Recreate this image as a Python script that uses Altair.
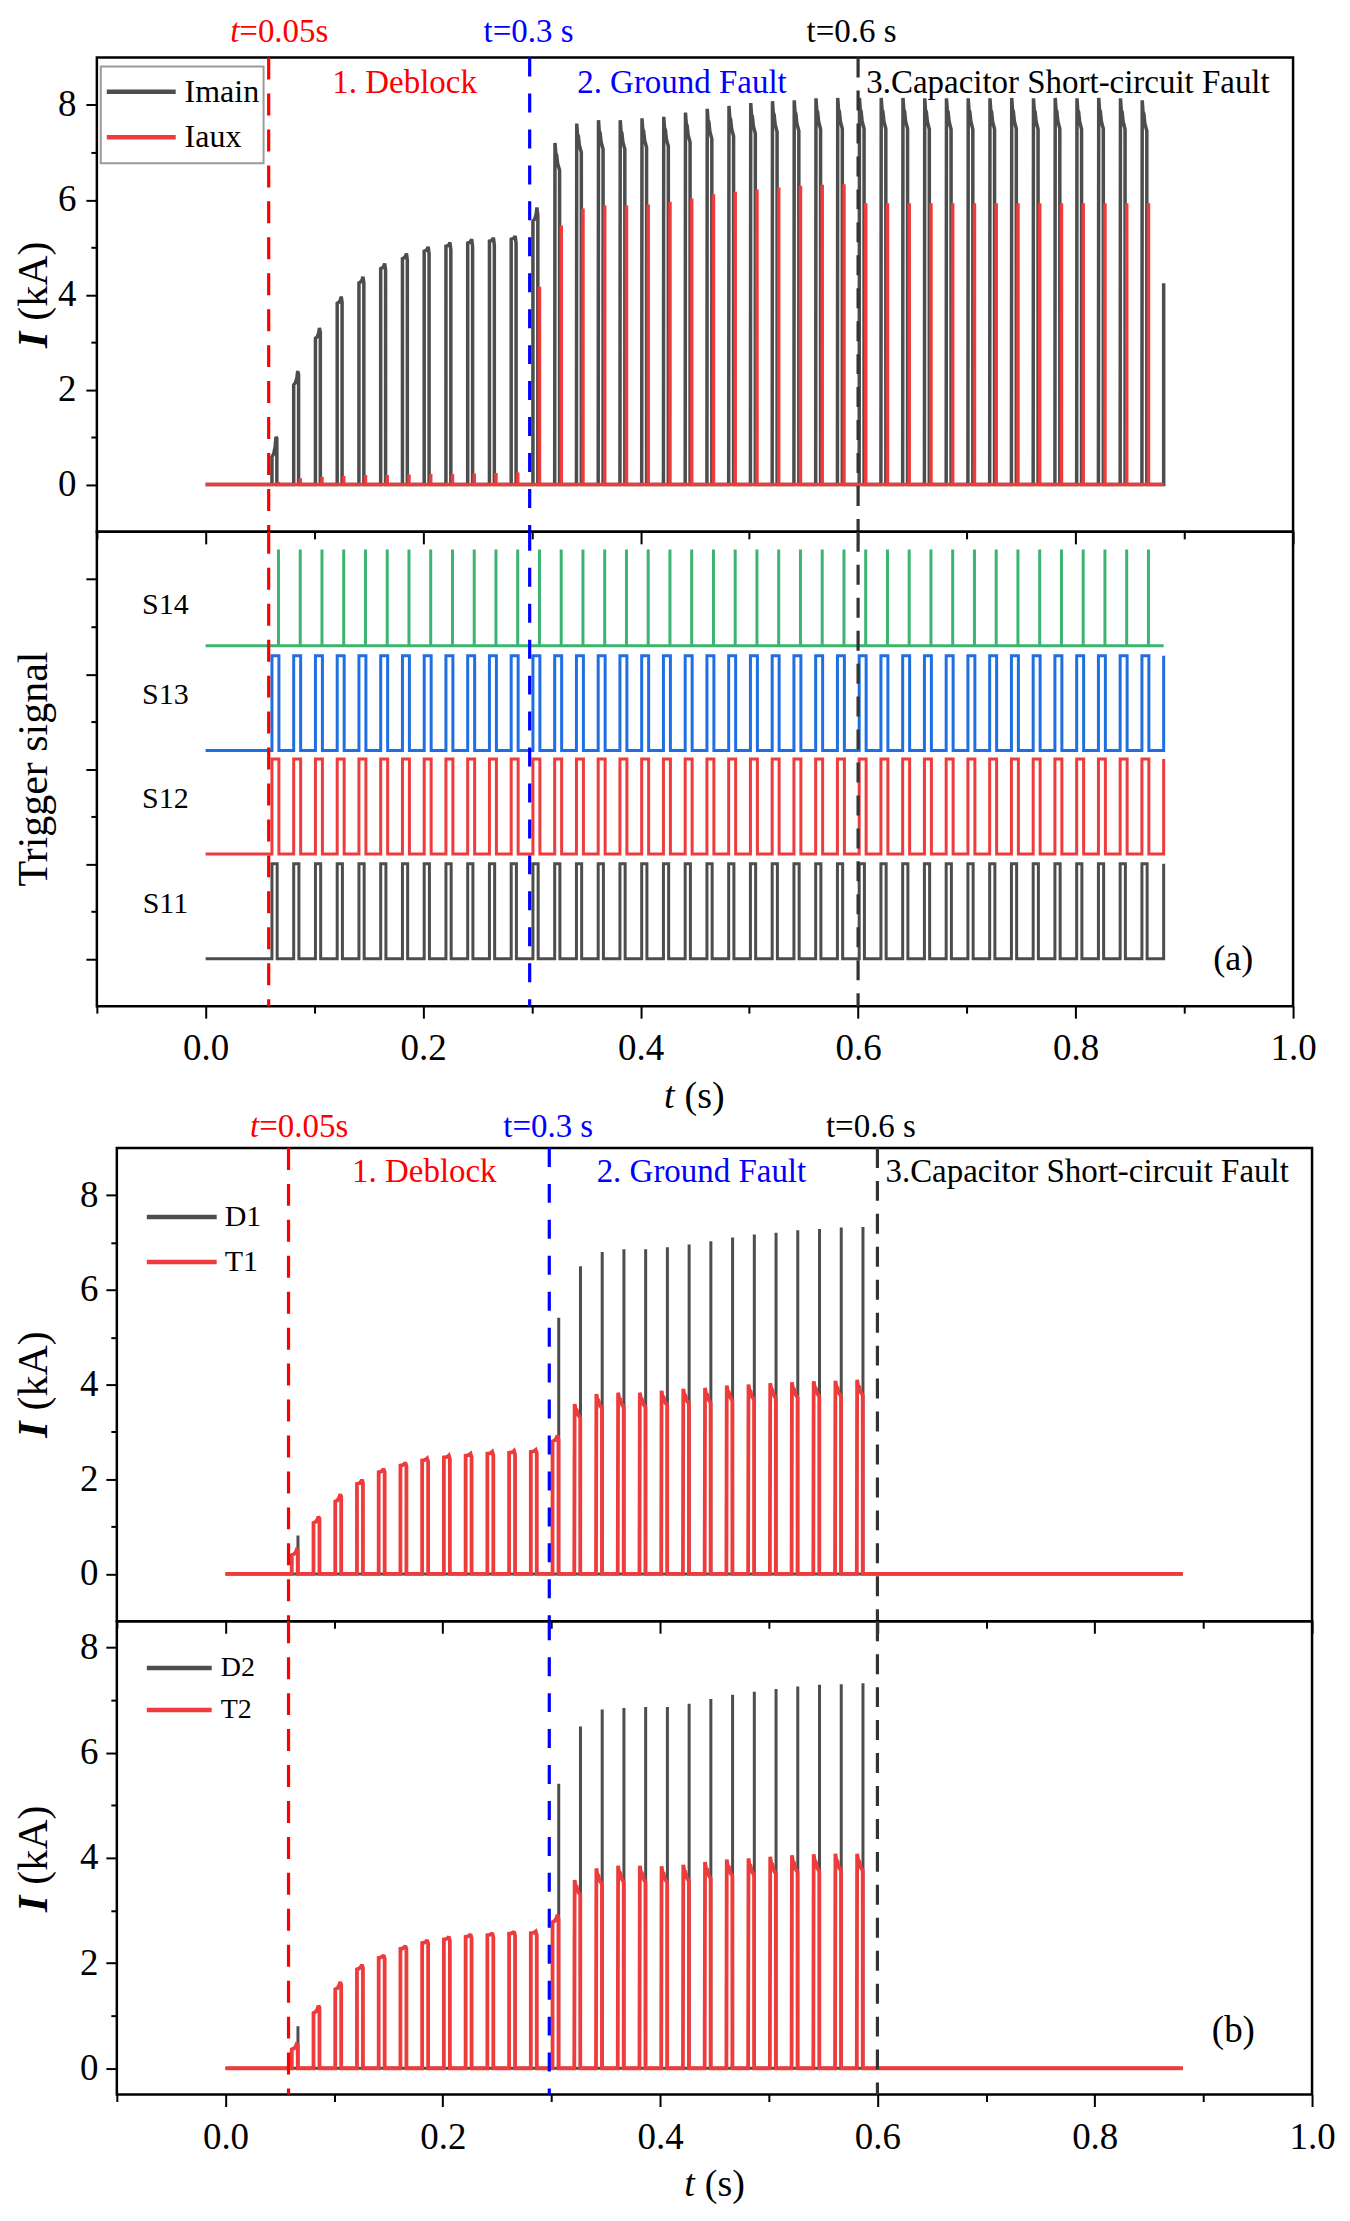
import altair as alt
import pandas as pd

FONT = "Liberation Serif"

# ---------------- values ----------------
# start of each 20 ms switching period (s)
pulse_start = [0.061, 0.081, 0.101, 0.121, 0.141, 0.161, 0.181, 0.201, 0.221, 0.241,
               0.261, 0.281, 0.301, 0.321, 0.341, 0.361, 0.381, 0.401, 0.421, 0.441,
               0.461, 0.481, 0.501, 0.521, 0.541, 0.561, 0.581, 0.601, 0.621, 0.641,
               0.661, 0.681, 0.701, 0.721, 0.741, 0.761, 0.781, 0.801, 0.821, 0.841,
               0.861]
record_end = 0.881

# (a) currents, kA
imain_on = [0.58, 2.10, 3.08, 3.82, 4.25, 4.55, 4.76, 4.92, 5.02, 5.09, 5.13, 5.17, 5.55]
imain_peak = [1.00, 2.39, 3.30, 3.96, 4.38, 4.66, 4.87, 5.01, 5.10, 5.17, 5.20, 5.24, 5.84,
              7.20, 7.61, 7.68, 7.68, 7.72, 7.75, 7.84, 7.92, 7.98, 8.04, 8.08, 8.10, 8.14, 8.15,
              8.15, 8.15, 8.15, 8.14, 8.14, 8.14, 8.14, 8.15, 8.14, 8.15, 8.14, 8.15, 8.14, 8.10]
imain_final = 4.24
iaux_peak = [0.05, 0.13, 0.16, 0.18, 0.20, 0.20, 0.21, 0.22, 0.22, 0.23, 0.24, 0.25,
             4.17, 5.46, 5.82, 5.88, 5.88, 5.90, 5.96, 6.03, 6.12, 6.17, 6.22, 6.26, 6.30, 6.32, 6.33,
             5.93, 5.93, 5.93, 5.93, 5.93, 5.93, 5.93, 5.93, 5.93, 5.93, 5.93, 5.93, 5.93, 5.93]

# (a) trigger signals
trig_names = ["S11", "S12", "S13", "S14"]
trig_base = [0.0, 2.21, 4.39, 6.60]
trig_amp = [2.0, 2.0, 2.0, 2.03]
trig_on_time = [0.0048, 0.0064, 0.0064]

# (b) device currents, kA
t1_on = [0.40, 1.08, 1.53, 1.90, 2.15, 2.29, 2.40, 2.46, 2.50, 2.54, 2.56, 2.58, 2.80]
t1_peak = [0.51, 1.21, 1.68, 1.99, 2.22, 2.35, 2.44, 2.50, 2.54, 2.58, 2.60, 2.62, 2.93,
           3.59, 3.80, 3.83, 3.83, 3.87, 3.91, 3.93, 3.98, 4.00, 4.03, 4.05, 4.07, 4.08, 4.10]
d1_peak = [0.81, 0.05, 0.05, 0.05, 0.05, 0.05, 0.05, 0.05, 0.05, 0.05, 0.05, 0.05,
           5.41, 6.50, 6.80, 6.86, 6.86, 6.90, 6.96, 7.03, 7.11, 7.17, 7.21, 7.26, 7.29, 7.32, 7.33]
t2_on = [0.36, 1.05, 1.50, 1.88, 2.10, 2.27, 2.38, 2.45, 2.50, 2.53, 2.56, 2.57, 2.78]
t2_peak = [0.46, 1.19, 1.64, 1.97, 2.15, 2.33, 2.44, 2.50, 2.55, 2.57, 2.60, 2.60, 2.92,
           3.58, 3.80, 3.85, 3.85, 3.84, 3.87, 3.92, 3.97, 3.99, 4.02, 4.05, 4.07, 4.08, 4.08]
d2_peak = [0.80, 0.05, 0.05, 0.05, 0.05, 0.05, 0.05, 0.05, 0.05, 0.05, 0.05, 0.05,
           5.41, 6.50, 6.82, 6.85, 6.87, 6.87, 6.93, 7.02, 7.10, 7.16, 7.21, 7.26, 7.29, 7.30, 7.32]

# events
event_t = [0.058, 0.298, 0.600]
event_text = ["=0.05s", "t=0.3 s", "t=0.6 s"]
phase_text = ["1. Deblock", "2. Ground Fault", "3.Capacitor Short-circuit Fault"]

X_TICKS = [-0.1, 0.0, 0.1, 0.2, 0.3, 0.4, 0.5, 0.6, 0.7, 0.8, 0.9, 1.0]
Y_TICKS = [0, 1, 2, 3, 4, 5, 6, 7, 8]

# ---------------- styles ----------------
GRAY = "#4d4d4d"
RED = "#ee3b3b"
GREEN = "#3cb371"
BLUE = "#1f6fe3"
EV_COLORS = ["#ff0000", "#0000ff", "#333333"]
EV_DASH = [[22, 14], [19, 17], [20, 13]]
PH_COLORS = ["#ff0000", "#0000ff", "#000000"]

# ---------------- waveform construction ----------------
def frame(points):
    return pd.DataFrame({"t": [p[0] for p in points], "v": [p[1] for p in points],
                         "i": list(range(len(points)))})


def main_wave(peaks, ons, width, final=None):
    pts = [(0.0, 0.0)]
    for k, ts in enumerate(pulse_start[:len(peaks)]):
        P = peaks[k]
        if k < len(ons):
            A = ons[k]
            pts += [(ts, 0.0), (ts, A), (ts + 0.35 * width, A + 0.15 * (P - A)),
                    (ts + 0.65 * width, A + 0.5 * (P - A)), (ts + 0.82 * width, P),
                    (ts + width, 0.97 * P), (ts + width, 0.0)]
        else:
            pts += [(ts, 0.0), (ts + 0.06 * width, P), (ts + 0.22 * width, 0.97 * P),
                    (ts + 0.4 * width, 0.965 * P), (ts + 0.6 * width, 0.94 * P),
                    (ts + width, 0.92 * P), (ts + width, 0.0)]
    pts.append((record_end, 0.0))
    if final is not None:
        pts.append((record_end, final))
    return frame(pts)


def spike_wave(peaks, delay):
    pts = [(0.0, 0.0)]
    for k, ts in enumerate(pulse_start[:len(peaks)]):
        te = ts + delay
        pts += [(te, 0.0), (te, peaks[k]), (te, 0.0)]
    pts.append((record_end, 0.0))
    return frame(pts)


def square_wave(base, amp, on_time):
    pts = [(0.0, base)]
    for ts in pulse_start:
        pts += [(ts, base), (ts, base + amp), (ts + on_time, base + amp), (ts + on_time, base)]
    pts += [(record_end, base), (record_end, base + amp)]
    return frame(pts)


def trigger_spikes(base, amp, delay):
    pts = [(0.0, base)]
    for ts in pulse_start:
        te = ts + delay
        pts += [(te, base), (te, base + amp), (te, base)]
    pts.append((record_end, base))
    return frame(pts)


# ---------------- axes ----------------
X_TICK_SIZE = {"condition": {"test": "abs(round(datum.value * 10)) % 2 == 0", "value": 12}, "value": 7}
Y_TICK_SIZE = {"condition": {"test": "round(datum.value) % 2 == 0", "value": 11}, "value": 6}
XS = alt.Scale(domain=[-0.1, 1.0], nice=False, zero=False)


def axes(xlabels, ylabels, ypad, xpad=12):
    xax = alt.Axis(values=X_TICKS, title=None, grid=False, domain=False, labels=xlabels,
                   labelFlush=False, labelOverlap=False, tickSize=X_TICK_SIZE,
                   labelExpr="abs(round(datum.value * 10)) % 2 == 0 ? format(datum.value, '.1f') : ''",
                   labelPadding=xpad, labelFontSize=37, labelFont=FONT, labelColor="black",
                   tickWidth=2, tickColor="black")
    yax = alt.Axis(values=Y_TICKS, title=None, grid=False, domain=False, labels=ylabels,
                   labelFlush=False, labelOverlap=False, tickSize=Y_TICK_SIZE,
                   labelExpr="round(datum.value) % 2 == 0 ? format(datum.value, 'd') : ''",
                   labelPadding=ypad, labelFontSize=37, labelFont=FONT, labelColor="black",
                   tickWidth=2, tickColor="black")
    return xax, yax


class Panel:
    def __init__(self, ydomain, xlabels, ylabels, ypad, xpad=12):
        self.ys = alt.Scale(domain=ydomain, nice=False, zero=False)
        self.xax, self.yax = axes(xlabels, ylabels, ypad, xpad)
        self.layers = []

    def enc(self, xfield="t", yfield="v"):
        return dict(x=alt.X(f"{xfield}:Q", scale=XS, axis=self.xax),
                    y=alt.Y(f"{yfield}:Q", scale=self.ys, axis=self.yax))

    def line(self, df, color, width):
        self.layers.append(alt.Chart(df).mark_line(color=color, strokeWidth=width, strokeJoin="miter",
                                                   strokeMiterLimit=2)
                           .encode(order="i:Q", **self.enc()))

    def events(self):
        for t, c, d in zip(event_t, EV_COLORS, EV_DASH):
            self.layers.append(alt.Chart(pd.DataFrame({"t": [t]})).mark_rule(
                color=c, strokeWidth=3.2, strokeDash=d)
                .encode(x=alt.X("t:Q", scale=XS, axis=self.xax)))

    def text(self, xs, ys, texts, colors, **kw):
        df = pd.DataFrame({"t": xs, "v": ys, "txt": texts, "col": colors})
        kw.setdefault("font", FONT)
        self.layers.append(alt.Chart(df).mark_text(**kw).encode(
            text="txt:N", color=alt.Color("col:N", scale=None), **self.enc()))

    def legend(self, names, colors, x0, x1, ys, xtext, size, box=None):
        df = pd.DataFrame({"t": [x0] * len(names), "t2": [x1] * len(names), "v": ys,
                           "col": colors, "txt": names})
        if box is not None:
            bdf = pd.DataFrame({"t": [box[0]], "t2": [box[1]], "v": [box[2]], "v2": [box[3]]})
            self.layers.append(alt.Chart(bdf).mark_rect(fill="white", fillOpacity=0, stroke="#9a9a9a",
                                                        strokeWidth=2)
                               .encode(x2="t2:Q", y2="v2:Q", **self.enc()))
        self.layers.append(alt.Chart(df).mark_rule(strokeWidth=4.5).encode(
            x2="t2:Q", color=alt.Color("col:N", scale=None), **self.enc()))
        self.text([xtext] * len(names), ys, names, ["black"] * len(names),
                  fontSize=size, align="left", baseline="middle")

    def top_labels(self, y_ev, y_ph):
        # event time labels
        self.text([0.031], [y_ev], ["t"], [EV_COLORS[0]], fontSize=33, fontStyle="italic",
                  align="right", baseline="middle")
        self.text([0.031], [y_ev], [event_text[0]], [EV_COLORS[0]], fontSize=33,
                  align="left", baseline="middle")
        self.text([0.297, 0.594], [y_ev, y_ev], event_text[1:], ["#0000ff", "#000000"],
                  fontSize=33, align="center", baseline="middle")
        self.text([0.183, 0.438, 0.793], [y_ph] * 3, phase_text, PH_COLORS,
                  fontSize=33, align="center", baseline="middle")

    def ytitle_current(self, x, y):
        self.text([x], [y], ["I"], ["black"], fontSize=42, fontStyle="italic", fontWeight="bold",
                  angle=270, align="right", baseline="middle")
        self.text([x], [y], ["(kA)"], ["black"], fontSize=42, angle=270, dx=11,
                  align="left", baseline="middle")

    def xtitle(self, x, y):
        self.text([x], [y], ["t"], ["black"], fontSize=38, fontStyle="italic",
                  align="right", baseline="middle")
        self.text([x], [y], ["(s)"], ["black"], fontSize=38, dx=10, align="left", baseline="middle")

    def chart(self, w, h):
        return alt.layer(*self.layers).properties(width=w, height=h)


# ---------------- panel (a) current ----------------
a1 = Panel([-1, 9], False, True, 10)
a1.line(main_wave(imain_peak, imain_on, 0.0045, imain_final), GRAY, 3.5)
a1.line(spike_wave(iaux_peak, 0.006), RED, 3.5)
a1.events()
a1.top_labels(9.53, 8.47)
a1.legend(["Imain", "Iaux"], [GRAY, RED], -0.0909, -0.0275, [8.28, 7.32], -0.0193, 32,
          box=(-0.0964, 0.0533, 8.81, 6.77))
a1.ytitle_current(-0.158, 3.22)

# ---------------- panel (a) trigger ----------------
a2 = Panel([-1, 9], True, False, 10)
trig_colors = [GRAY, RED, BLUE, GREEN]
for j in range(3):
    a2.line(square_wave(trig_base[j], trig_amp[j], trig_on_time[j]), trig_colors[j], 3)
a2.line(trigger_spikes(trig_base[3], trig_amp[3], 0.006), trig_colors[3], 3)
a2.events()
a2.text([-0.037] * 4, [1.15, 3.36, 5.55, 7.45], trig_names, ["black"] * 4,
        fontSize=30, align="center", baseline="middle")
a2.text([0.945], [-0.01], ["(a)"], ["black"], fontSize=36, align="center", baseline="middle")
a2.text([-0.158], [4.0], ["Trigger signal"], ["black"], fontSize=42, angle=270,
        align="center", baseline="middle")
a2.xtitle(0.4313, -2.916)

# ---------------- panel (b) D1/T1 ----------------
b1 = Panel([-1, 9], False, True, 8)
b1.line(spike_wave(d1_peak, 0.0057), GRAY, 3)
b1.line(main_wave(t1_peak, t1_on, 0.0055), RED, 3.8)
b1.events()
b1.top_labels(9.44, 8.49)
b1.legend(["D1", "T1"], [GRAY, RED], -0.0724, -0.0081, [7.54, 6.59], -0.0007, 30)
b1.ytitle_current(-0.1763, 3.22)

# ---------------- panel (b) D2/T2 ----------------
b2 = Panel([-0.5, 8.5], True, True, 8, xpad=13)
b2.line(spike_wave(d2_peak, 0.0057), GRAY, 3)
b2.line(main_wave(t2_peak, t2_on, 0.0055), RED, 3.8)
b2.events()
b2.legend(["D2", "T2"], [GRAY, RED], -0.0724, -0.0127, [7.61, 6.81], -0.0044, 28)
b2.text([0.9276], [0.71], ["(b)"], ["black"], fontSize=37, align="center", baseline="middle")
b2.ytitle_current(-0.1763, 3.28)
b2.xtitle(0.432, -2.227)

spacer = alt.Chart(pd.DataFrame({"z": [0]})).mark_point(opacity=0).encode(
    x=alt.value(0), y=alt.value(0)).properties(width=20, height=10,
                                              view=alt.ViewBackground(stroke="transparent"))

a_block = alt.vconcat(a1.chart(1198, 475), a2.chart(1198, 475), spacing=0, bounds="flush"
                      ).resolve_scale(x="independent", y="independent")
b_inner = alt.vconcat(b1.chart(1197, 474), b2.chart(1197, 474), spacing=0, bounds="flush"
                      ).resolve_scale(x="independent", y="independent")
b_block = alt.hconcat(spacer, b_inner, spacing=0, bounds="flush").resolve_scale(
    x="independent", y="independent")

chart = alt.vconcat(a_block, b_block, spacing=-9).resolve_scale(
    x="independent", y="independent").properties(
    padding={"left": 3, "top": 5, "right": 5, "bottom": 5}, background="white"
).configure_view(stroke="black", strokeWidth=2.5).configure_axis(
    labelFont=FONT, titleFont=FONT)

chart.save("out.html", embed_options={"renderer": "svg", "actions": False})
